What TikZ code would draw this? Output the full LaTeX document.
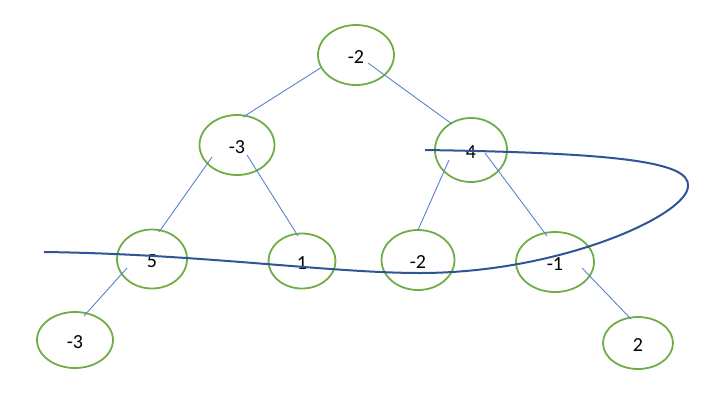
\documentclass[tikz,border=0pt]{standalone}
\usepackage{fontspec}
\setmainfont{Carlito}
\usetikzlibrary{shapes.geometric,calc}
\definecolor{nodegreen}{HTML}{70AD47}
\definecolor{edgeblue}{HTML}{5B82CC}
\definecolor{curveblue}{HTML}{2F5597}
\begin{document}
\begin{tikzpicture}[x=1pt,y=-1pt,
  tnode/.style={ellipse,draw=nodegreen,line width=1.8pt,inner sep=0pt,
    text height=17.6pt,text depth=0pt,
    minimum width=74pt,minimum height=58pt,font=\fontsize{20}{22}\selectfont},
  tedge/.style={draw=edgeblue,line width=0.9pt},
  cut/.style={draw=curveblue,line width=2pt}]
\useasboundingbox (0,0) rectangle (720,400);
\node[tnode,minimum width=76pt,minimum height=60pt] (r) at (356,55) {-2};
\node[tnode,minimum width=75pt,minimum height=60pt] (a) at (237,145) {-3};
\node[tnode,minimum width=72pt,minimum height=64pt] (b) at (471,150) {4};
\node[tnode,minimum width=70pt,minimum height=59pt] (c) at (152,259) {5};
\node[tnode,minimum width=67pt,minimum height=55pt] (d) at (302,261) {1};
\node[tnode,minimum width=73pt,minimum height=60pt] (e) at (418,260) {-2};
\node[tnode,minimum width=78pt,minimum height=60pt] (f) at (555,262) {-1};
\node[tnode,minimum width=76pt,minimum height=56pt] (g) at (75,340) {-3};
\node[tnode,minimum width=70pt,minimum height=52pt] (h) at (638,343) {2};
% edges
\draw[tedge] (r.200) -- ($(a)+(6,-28)$);
\draw[tedge] ($(r)+(12,8)$) -- ($(b)+(-19,-26)$);
\draw[tedge] ($(a)+(-25,12)$) -- ($(c)+(7,-27)$);
\draw[tedge] ($(a)+(10,10)$) -- ($(d)+(-4,-25)$);
\draw[tedge] ($(b)+(-22,10)$) -- ($(e)+(0,-30)$);
\draw[tedge] ($(b)+(14,3)$) -- ($(f)+(-8,-26)$);
\draw[tedge] ($(c)+(-25,9)$) -- ($(g)+(9,-24)$);
\draw[tedge] ($(f)+(27,6)$) -- ($(h)+(-7,-24)$);
% cut curve
\coordinate (s) at (44,252);
\coordinate (m) at (420,273);
\coordinate (t) at (688,186);
\coordinate (u) at (425,150);
\draw[cut] (s) .. controls (200,254) and (330,273) .. (m)
  .. controls (560,273) and (688,215) .. (t)
  .. controls (690,162) and (620,153) .. (u);
\end{tikzpicture}
\end{document}
